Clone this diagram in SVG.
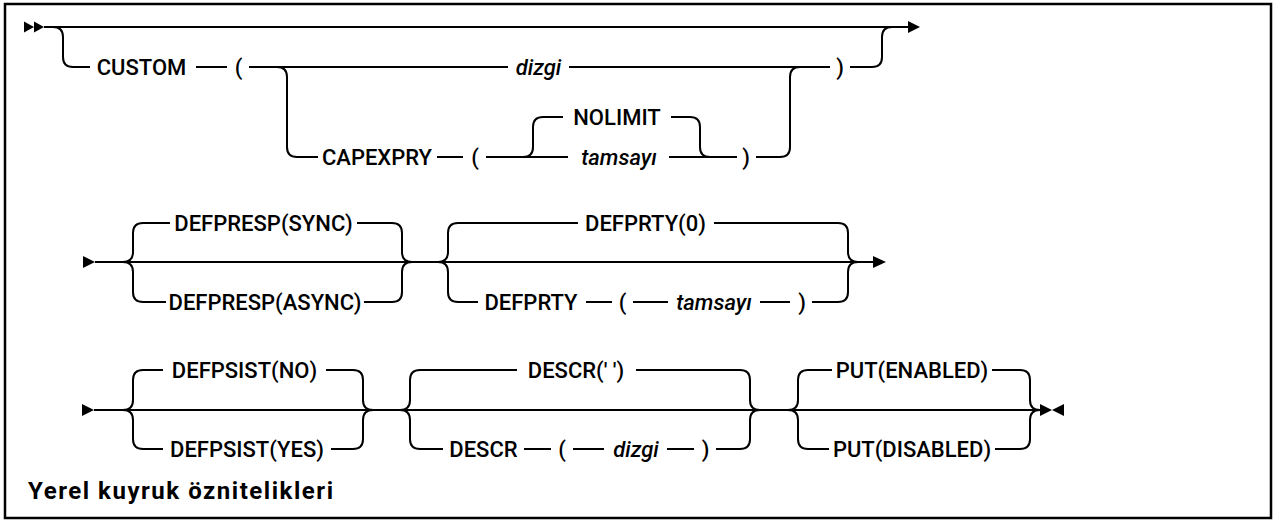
<svg xmlns="http://www.w3.org/2000/svg" width="1277" height="522" viewBox="0 0 1277 522">
<style>
.ln{fill:none;stroke:#000;stroke-width:2}
.ar{fill:#000;stroke:none}
.t{font-family:Roboto,"Liberation Sans",sans-serif;font-size:22px;font-weight:500;fill:#000;text-anchor:middle}
.i{font-style:italic}
.title{font-family:Roboto,"Liberation Sans",sans-serif;font-size:24px;font-weight:bold;fill:#000}
</style>
<rect x="5" y="4" width="1266" height="514" fill="#fff" stroke="#000" stroke-width="2.5"/>
<g id="connectors">
<path class="ar" d="M24,21.5 L34,27 L24,32.5 Z M34,21.5 L44,27 L34,32.5 Z"/>
<path class="ln" d="M44,27 H908"/>
<path class="ar" d="M908,21 L920,27 L908,33 Z"/>
<path class="ln" d="M53,27 Q63,27 63,37 V57 Q63,67 73,67 H90"/>
<path class="ln" d="M196,67 H227"/>
<path class="ln" d="M249,67 H508"/>
<path class="ln" d="M569,67 H830"/>
<path class="ln" d="M850,67 H872 Q882,67 882,57 V37 Q882,27 892,27"/>
<path class="ln" d="M277,67 Q287,67 287,77 V147 Q287,157 297,157 H318"/>
<path class="ln" d="M437,157 H463"/>
<path class="ln" d="M486,157 H568"/>
<path class="ln" d="M523,157 Q533,157 533,147 V127 Q533,117 543,117 H563"/>
<path class="ln" d="M671,117 H690 Q700,117 700,127 V147 Q700,157 710,157"/>
<path class="ln" d="M669,157 H737"/>
<path class="ln" d="M756,157 H780 Q790,157 790,147 V77 Q790,67 800,67"/>
<path class="ar" d="M83,256 L95,262 L83,268 Z"/>
<path class="ln" d="M95,262 H873"/>
<path class="ar" d="M873,256 L886,262 L873,268 Z"/>
<path class="ln" d="M123,262 Q133,262 133,252 V233 Q133,223 143,223 H170"/>
<path class="ln" d="M357,223 H392 Q402,223 402,233 V252 Q402,262 412,262"/>
<path class="ln" d="M123,262 Q133,262 133,272 V292 Q133,302 143,302 H166"/>
<path class="ln" d="M364,302 H392 Q402,302 402,292 V272 Q402,262 412,262"/>
<path class="ln" d="M438,262 Q448,262 448,252 V233 Q448,223 458,223 H578"/>
<path class="ln" d="M714,223 H838 Q848,223 848,233 V252 Q848,262 858,262"/>
<path class="ln" d="M438,262 Q448,262 448,272 V292 Q448,302 458,302 H478"/>
<path class="ln" d="M586,302 H612"/>
<path class="ln" d="M633,302 H668"/>
<path class="ln" d="M760,302 H790"/>
<path class="ln" d="M812,302 H838 Q848,302 848,292 V272 Q848,262 858,262"/>
<path class="ar" d="M82,404 L94,410 L82,416 Z"/>
<path class="ln" d="M94,410 H1042"/>
<path class="ar" d="M1040,404 L1052,410 L1040,416 Z M1064,404 L1052,410 L1064,416 Z"/>
<path class="ln" d="M123,410 Q133,410 133,400 V380 Q133,370 143,370 H163"/>
<path class="ln" d="M326,370 H353 Q363,370 363,380 V400 Q363,410 373,410"/>
<path class="ln" d="M123,410 Q133,410 133,420 V439 Q133,449 143,449 H163"/>
<path class="ln" d="M331,449 H353 Q363,449 363,439 V420 Q363,410 373,410"/>
<path class="ln" d="M400,410 Q410,410 410,400 V380 Q410,370 420,370 H517"/>
<path class="ln" d="M636,370 H740 Q750,370 750,380 V400 Q750,410 760,410"/>
<path class="ln" d="M400,410 Q410,410 410,420 V439 Q410,449 420,449 H443"/>
<path class="ln" d="M524,449 H551"/>
<path class="ln" d="M573,449 H604"/>
<path class="ln" d="M667,449 H694"/>
<path class="ln" d="M716,449 H740 Q750,449 750,439 V420 Q750,410 760,410"/>
<path class="ln" d="M788,410 Q798,410 798,400 V380 Q798,370 808,370 H832"/>
<path class="ln" d="M992,370 H1020 Q1030,370 1030,380 V400 Q1030,410 1040,410"/>
<path class="ln" d="M788,410 Q798,410 798,420 V439 Q798,449 808,449 H829"/>
<path class="ln" d="M995,449 H1020 Q1030,449 1030,439 V420 Q1030,410 1040,410"/>
</g>
<g id="n-custom"><text class="t" x="141.5" y="75">CUSTOM</text><text class="t" x="238.5" y="75">(</text></g>
<g id="n-dizgi1"><text class="t i" x="538.5" y="75">dizgi</text><text class="t" x="840" y="75">)</text></g>
<g id="n-capexpry"><text class="t" x="377" y="165">CAPEXPRY</text><text class="t" x="475" y="165">(</text></g>
<g id="n-nolimit"><text class="t" x="617" y="125">NOLIMIT</text></g>
<g id="n-tamsayi1"><text class="t i" x="619" y="165">tamsayı</text><text class="t" x="746" y="165">)</text></g>
<g id="n-defpresp-sync"><text class="t" x="263.5" y="231">DEFPRESP(SYNC)</text></g>
<g id="n-defpresp-async"><text class="t" x="265" y="310">DEFPRESP(ASYNC)</text></g>
<g id="n-defprty0"><text class="t" x="645.5" y="231">DEFPRTY(0)</text></g>
<g id="n-defprty"><text class="t" x="531" y="310">DEFPRTY</text><text class="t" x="622.5" y="310">(</text><text class="t i" x="714" y="310">tamsayı</text><text class="t" x="802" y="310">)</text></g>
<g id="n-defpsist-no"><text class="t" x="244.5" y="378">DEFPSIST(NO)</text></g>
<g id="n-defpsist-yes"><text class="t" x="247" y="457">DEFPSIST(YES)</text></g>
<g id="n-descr-blank"><text class="t" x="576" y="378">DESCR(' ')</text></g>
<g id="n-descr"><text class="t" x="483.5" y="457">DESCR</text><text class="t" x="562" y="457">(</text><text class="t i" x="636" y="457">dizgi</text><text class="t" x="705.5" y="457">)</text></g>
<g id="n-put-enabled"><text class="t" x="912" y="378">PUT(ENABLED)</text></g>
<g id="n-put-disabled"><text class="t" x="912" y="457">PUT(DISABLED)</text></g>
<g id="title"><text class="title" x="28" y="499" textLength="305" lengthAdjust="spacing">Yerel kuyruk öznitelikleri</text></g>
</svg>
